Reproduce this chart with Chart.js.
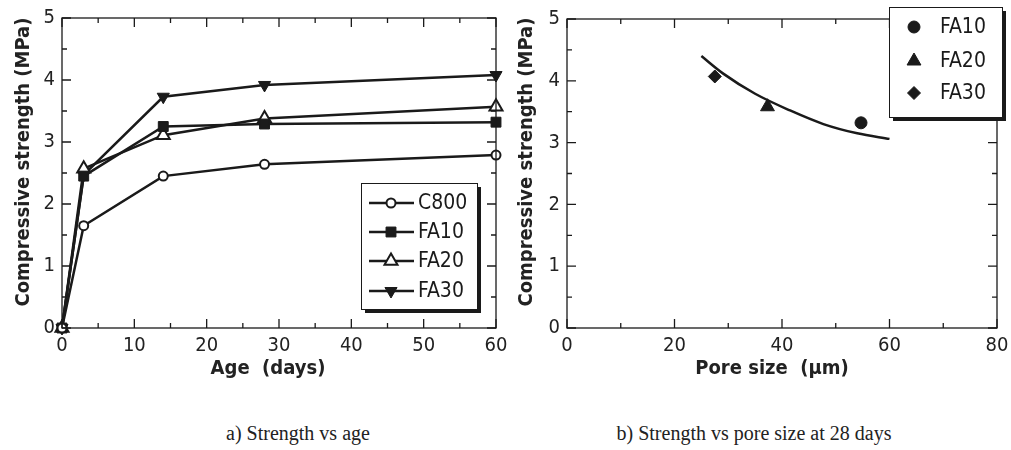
<!DOCTYPE html>
<html>
<head>
<meta charset="utf-8">
<script src="https://cdn.jsdelivr.net/npm/chart.js@4/dist/chart.umd.min.js"></script>
<style>
  body { margin: 0; background: #fff; }
  #page { position: relative; width: 1011px; height: 450px; overflow: hidden; background: #fff; }
  .box { position: absolute; top: 0; height: 360px; }
  .ytitle, .xtitle {
    position: absolute; font-family: 'DejaVu Sans Condensed', 'DejaVu Sans', sans-serif;
    font-weight: bold; font-size: 20px; color: #222; white-space: pre; text-align: center;
    line-height: 24px; height: 24px;
  }
  .ytitle { width: 320px; transform: rotate(-90deg); }
  .caption {
    position: absolute; top: 422px; font-family: 'Liberation Serif', 'Times New Roman', serif;
    font-size: 20px; line-height: 22px; color: #222; text-align: center; white-space: nowrap;
  }
</style>
</head>
<body>
<div id="page">
  <div class="box" style="left:0; width:510px;"><canvas id="ageChart"></canvas></div>
  <div class="box" style="left:505px; width:506px;"><canvas id="poreChart"></canvas></div>

  <div class="ytitle" style="left:-138px; top:150px;">Compressive strength (MPa)</div>
  <div class="ytitle" style="left:365px; top:150px;">Compressive strength (MPa)</div>
  <div class="xtitle" style="left:168px; width:200px; top:355px;">Age  (days)</div>
  <div class="xtitle" style="left:672px; width:200px; top:355px;">Pore size  (μm)</div>

  <div class="caption" style="left:198px; width:200px;">a) Strength vs age</div>
  <div class="caption" style="left:604px; width:300px;">b) Strength vs pore size at 28 days</div>
</div>

<script>
// ============================================================
// DATA
// ============================================================

const ageDays = [0, 3, 14, 28, 60];
const c800 = [0, 1.65, 2.45, 2.64, 2.79];
const fa10 = [0, 2.45, 3.25, 3.29, 3.32];
const fa20 = [0, 2.57, 3.11, 3.38, 3.57];
const fa30 = [0, 2.47, 3.73, 3.92, 4.08];

const poreLabels = ["FA10", "FA20", "FA30"];
const poreSize = [54.7, 37.3, 27.5];
const poreStrength = [3.32, 3.58, 4.07];

const fitPore = [25, 29, 35, 41.5, 47.7, 54, 60];
const fitStrength = [4.40, 4.12, 3.79, 3.52, 3.30, 3.15, 3.06];

const ageTicks = [0, 10, 20, 30, 40, 50, 60];
const poreTicks = [0, 20, 40, 60, 80];
const strengthTicks = [0, 1, 2, 3, 4, 5];

const INK = "#1a1a1a";
const FONT = "'DejaVu Sans Condensed', 'DejaVu Sans', sans-serif";


// ============================================================
// PLUGINS: FRAME WITH INWARD TICKS, BOXED LEGEND
// ============================================================

const frameTicks = {
  id: "frameTicks",
  afterDatasetsDraw(chart, args, opts) {
    const { ctx, chartArea: a, scales } = chart;
    ctx.save();
    ctx.strokeStyle = INK;
    ctx.lineWidth = 1.3;
    ctx.strokeRect(a.left, a.top, a.right - a.left, a.bottom - a.top);

    const x = scales.x, y = scales.y;
    const stepX = opts.stepX, stepY = opts.stepY;

    ctx.beginPath();
    for (let v = x.min; v <= x.max + 1e-9; v += stepX / 2) {
      const len = Math.abs(v / stepX - Math.round(v / stepX)) < 1e-6 ? 9 : 5;
      const px = x.getPixelForValue(v);
      ctx.moveTo(px, a.bottom); ctx.lineTo(px, a.bottom - len);
      ctx.moveTo(px, a.top); ctx.lineTo(px, a.top + len);
    }
    for (let v = y.min; v <= y.max + 1e-9; v += stepY / 2) {
      const len = Math.abs(v / stepY - Math.round(v / stepY)) < 1e-6 ? 9 : 5;
      const py = y.getPixelForValue(v);
      ctx.moveTo(a.left, py); ctx.lineTo(a.left + len, py);
      ctx.moveTo(a.right, py); ctx.lineTo(a.right - len, py);
    }
    ctx.stroke();
    ctx.restore();
  }
};

const boxLegend = {
  id: "boxLegend",
  afterDraw(chart, args, o) {
    const ctx = chart.ctx;
    ctx.save();

    // shadow + box
    ctx.fillStyle = INK;
    ctx.fillRect(o.left + 4, o.top + 4, o.width, o.height);
    ctx.fillStyle = "#fff";
    ctx.fillRect(o.left, o.top, o.width, o.height);
    ctx.strokeStyle = INK;
    ctx.lineWidth = 1;
    ctx.strokeRect(o.left + 0.5, o.top + 0.5, o.width, o.height);

    ctx.font = o.font;
    ctx.textBaseline = "middle";
    ctx.textAlign = "left";

    o.items.forEach((idx, i) => {
      const ds = chart.data.datasets[idx];
      const cy = o.rowY[i];
      if (o.lineX1 != null) {
        ctx.strokeStyle = INK;
        ctx.lineWidth = 2.5;
        ctx.beginPath();
        ctx.moveTo(o.lineX1, cy);
        ctx.lineTo(o.lineX2, cy);
        ctx.stroke();
      }
      ctx.fillStyle = ds.pointBackgroundColor;
      ctx.strokeStyle = ds.pointBorderColor;
      ctx.lineWidth = ds.pointBorderWidth;
      Chart.helpers.drawPoint(ctx, {
        pointStyle: ds.pointStyle,
        rotation: ds.pointRotation || 0,
        radius: ds.pointRadius,
        borderWidth: ds.pointBorderWidth
      }, o.markerX, cy);
      ctx.fillStyle = INK;
      ctx.fillText(ds.label, o.textX, cy + 1);
    });
    ctx.restore();
  }
};


// ============================================================
// SHARED AXIS HELPERS
// ============================================================

function xAxis(min, max, ticks) {
  return {
    type: "linear", min, max,
    grid: { display: false, drawTicks: false },
    border: { display: false },
    afterBuildTicks: s => { s.ticks = ticks.map(v => ({ value: v })); },
    afterFit: s => { s.height = 32; s.paddingLeft = 0; s.paddingRight = 0; },
    ticks: { color: "#222", padding: 6, font: { family: FONT, size: 20 }, maxRotation: 0 }
  };
}

function yAxis() {
  return {
    type: "linear", min: 0, max: 5,
    grid: { display: false, drawTicks: false },
    border: { display: false },
    afterBuildTicks: s => { s.ticks = strengthTicks.map(v => ({ value: v })); },
    afterFit: s => { s.width = 62; s.paddingTop = 0; s.paddingBottom = 0; },
    ticks: { color: "#222", padding: 7, font: { family: FONT, size: 20 } }
  };
}

function lineSet(label, values, style, radius, filled, rotation) {
  return {
    label,
    data: ageDays.map((d, i) => ({ x: d, y: values[i] })),
    borderColor: INK,
    borderWidth: 2.5,
    pointStyle: style,
    pointRadius: radius,
    pointRotation: rotation || 0,
    pointBackgroundColor: filled ? INK : "#fff",
    pointBorderColor: INK,
    pointBorderWidth: filled ? 1 : 2,
    tension: 0,
    clip: false
  };
}


// ============================================================
// a) STRENGTH VS AGE
// ============================================================

new Chart(document.getElementById("ageChart"), {
  type: "line",
  data: {
    datasets: [
      lineSet("C800", c800, "circle", 4.5, false),
      lineSet("FA10", fa10, "rect", 7, true),
      lineSet("FA20", fa20, "triangle", 7.5, false),
      lineSet("FA30", fa30, "triangle", 7, true, 180)
    ]
  },
  options: {
    responsive: true,
    maintainAspectRatio: false,
    animation: false,
    layout: { padding: { left: 0, right: 14, top: 18, bottom: 0 } },
    scales: { x: xAxis(0, 60, ageTicks), y: yAxis() },
    plugins: {
      legend: { display: false },
      tooltip: { enabled: false },
      frameTicks: { stepX: 10, stepY: 1 },
      boxLegend: {
        left: 361, top: 183, width: 116, height: 126,
        rowY: [203, 232, 261, 291], items: [0, 1, 2, 3],
        lineX1: 369, lineX2: 414, markerX: 391, textX: 418,
        font: "21px " + FONT
      }
    }
  },
  plugins: [frameTicks, boxLegend]
});


// ============================================================
// b) STRENGTH VS PORE SIZE AT 28 DAYS
// ============================================================

function pointSet(i, style, radius, rotation) {
  return {
    type: "scatter",
    label: poreLabels[i],
    data: [{ x: poreSize[i], y: poreStrength[i] }],
    pointStyle: style,
    pointRadius: radius,
    pointRotation: rotation || 0,
    pointBackgroundColor: INK,
    pointBorderColor: INK,
    pointBorderWidth: 1,
    clip: false
  };
}

new Chart(document.getElementById("poreChart"), {
  type: "scatter",
  data: {
    datasets: [
      pointSet(0, "circle", 6),
      pointSet(1, "triangle", 8),
      pointSet(2, "rectRot", 6.5),
      {
        type: "line",
        label: "fit",
        data: fitPore.map((p, i) => ({ x: p, y: fitStrength[i] })),
        borderColor: INK,
        borderWidth: 2.5,
        pointRadius: 0,
        cubicInterpolationMode: "monotone"
      }
    ]
  },
  options: {
    responsive: true,
    maintainAspectRatio: false,
    animation: false,
    layout: { padding: { left: 0, right: 14, top: 19, bottom: 0 } },
    scales: { x: xAxis(0, 80, poreTicks), y: yAxis() },
    plugins: {
      legend: { display: false },
      tooltip: { enabled: false },
      frameTicks: { stepX: 20, stepY: 1 },
      boxLegend: {
        left: 384, top: 7, width: 113, height: 110,
        rowY: [27, 61, 93], items: [0, 1, 2],
        lineX1: null, markerX: 409, textX: 435,
        font: "21px " + FONT
      }
    }
  },
  plugins: [frameTicks, boxLegend]
});
</script>
</body>
</html>
